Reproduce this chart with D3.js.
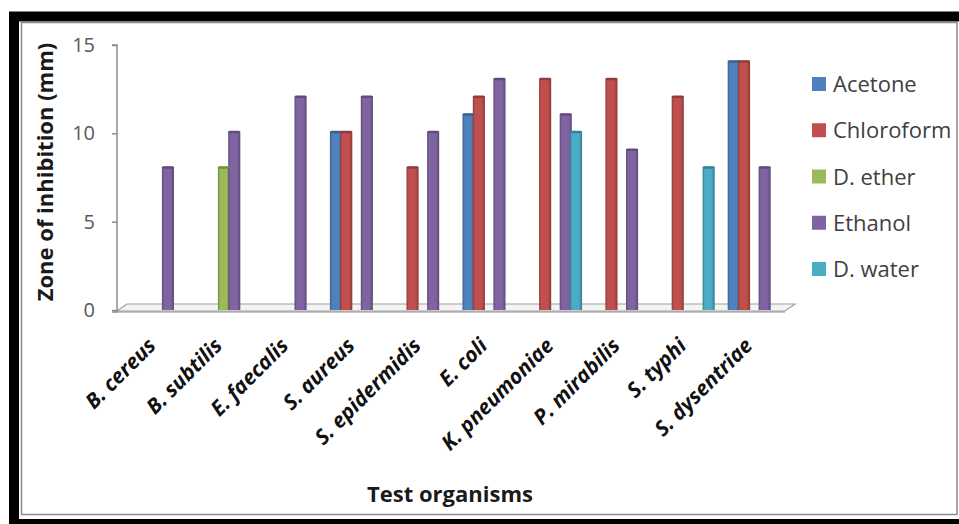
<!DOCTYPE html>
<html>
<head>
<meta charset="utf-8">
<script src="https://cdn.jsdelivr.net/npm/d3@7"></script>
<style>
  body { margin: 0; background: #fff; }
  svg { display: block; }
</style>
</head>
<body>
<div id="chart"></div>
<script>
// chart data
const organisms = ["B. cereus", "B. subtilis", "E. faecalis", "S. aureus", "S. epidermidis",
  "E. coli", "K. pneumoniae", "P. mirabilis", "S. typhi", "S. dysentriae"];
const solvents = ["Acetone", "Chloroform", "D. ether", "Ethanol", "D. water"];
const acetone    = [0, 0, 0, 10, 0, 11, 0, 0, 0, 14];
const chloroform = [0, 0, 0, 10, 8, 12, 13, 13, 12, 14];
const dEther     = [0, 8, 0, 0, 0, 0, 0, 0, 0, 0];
const ethanol    = [8, 10, 12, 12, 10, 13, 11, 9, 0, 8];
const dWater     = [0, 0, 0, 0, 0, 0, 10, 0, 8, 0];
const yTicks = [0, 5, 10, 15];
const xTitle = "Test organisms";
const yTitle = "Zone of inhibition (mm)";

const seriesValues = [acetone, chloroform, dEther, ethanol, dWater];
const colors = ["#4f81bd", "#c0504d", "#9bbb59", "#8064a2", "#4bacc6"];

//define positional parameters
let svgWidth = 959;
let svgHeight = 524;
let plotLeft = 117;
let plotRight = 780;
let plotTop = 45;
let plotBottom = 310;
let depthX = 10;
let depthY = 7;
let clusterShift = 14;
let font = "'Open Sans', 'Noto Sans', sans-serif";

let svg = d3.select("#chart")
  .append("svg")
  .attr("width", svgWidth)
  .attr("height", svgHeight);

//gradients for the shaded bars
let defs = svg.append("defs");
colors.forEach(function(c, i) {
  let g = defs.append("linearGradient")
    .attr("id", "grad" + i)
    .attr("x1", "0%").attr("x2", "100%").attr("y1", "0%").attr("y2", "0%");
  let dark = d3.color(c).darker(0.9);
  g.append("stop").attr("offset", "0%").attr("stop-color", dark);
  g.append("stop").attr("offset", "18%").attr("stop-color", c);
  g.append("stop").attr("offset", "72%").attr("stop-color", c);
  g.append("stop").attr("offset", "100%").attr("stop-color", dark);
});

//outer frame
svg.append("rect")
  .attr("x", 14).attr("y", 16.5)
  .attr("width", 965).attr("height", 507.5)
  .attr("fill", "none").attr("stroke", "#000").attr("stroke-width", 10);
svg.append("rect")
  .attr("x", 21.5).attr("y", 22.5)
  .attr("width", 935.5).attr("height", 492)
  .attr("fill", "none").attr("stroke", "#8a8a8a").attr("stroke-width", 1.5);

//define scales
let x0 = d3.scaleBand()
  .domain(organisms)
  .range([plotLeft, plotRight]);

let x1 = d3.scaleBand()
  .domain(solvents)
  .range([clusterShift, clusterShift + 51.5]);

let yScale = d3.scaleLinear()
  .domain([0, 15])
  .range([plotBottom, plotTop]);

//floor of the 3d plot
let floorRight = plotRight + 5;
svg.append("path")
  .attr("d", `M${plotLeft},${plotBottom + 1} L${floorRight},${plotBottom + 1} L${floorRight + depthX},${plotBottom - depthY + 1} L${plotLeft + depthX},${plotBottom - depthY + 1} Z`)
  .attr("fill", "#f4f4f4")
  .attr("stroke", "#a0a0a0")
  .attr("stroke-width", 1.2);
svg.append("line")
  .attr("x1", plotLeft).attr("x2", floorRight)
  .attr("y1", plotBottom + 2).attr("y2", plotBottom + 2)
  .attr("stroke", "#8c8c8c").attr("stroke-width", 1.2);

//y axis
let yAxis = d3.axisLeft(yScale)
  .tickValues(yTicks)
  .tickSize(5)
  .tickPadding(17);
let yAxisGroup = svg.append("g")
  .attr("transform", `translate(${plotLeft},0)`)
  .call(yAxis);
yAxisGroup.select(".domain")
  .attr("stroke", "#8c8c8c").attr("stroke-width", 1.5)
  .attr("d", `M-5,${plotTop}H0V${plotBottom + 2}H-5`);
yAxisGroup.selectAll(".tick line").attr("stroke", "#8c8c8c").attr("stroke-width", 1.5);
yAxisGroup.selectAll(".tick text")
  .attr("fill", "#595959")
  .style("font-family", font)
  .style("font-size", "20px");

//bars
let bars = [];
organisms.forEach(function(org, i) {
  solvents.forEach(function(s, j) {
    let v = seriesValues[j][i];
    if (v > 0) {
      bars.push({org: org, solvent: s, index: j, value: v});
    }
  });
});

let barWidth = x1.bandwidth() + 1.8;
let barGroup = svg.append("g");
barGroup.selectAll("rect.bar")
  .data(bars)
  .enter()
  .append("rect")
  .attr("class", "bar")
  .attr("x", d => x0(d.org) + x1(d.solvent))
  .attr("y", d => yScale(d.value) - 2)
  .attr("width", barWidth)
  .attr("height", d => yScale(0) - yScale(d.value) + 2)
  .attr("fill", d => `url(#grad${d.index})`);

barGroup.selectAll("rect.cap")
  .data(bars)
  .enter()
  .append("rect")
  .attr("class", "cap")
  .attr("x", d => x0(d.org) + x1(d.solvent) + 0.5)
  .attr("y", d => yScale(d.value) - 2.5)
  .attr("width", barWidth - 1)
  .attr("height", 2.5)
  .attr("rx", 1)
  .attr("fill", d => d3.color(colors[d.index]).darker(0.8));

//category labels
svg.append("g")
  .selectAll("text")
  .data(organisms)
  .enter()
  .append("text")
  .attr("transform", d => `translate(${x0(d) + x0.bandwidth() / 2 + 7},347) rotate(-45)`)
  .attr("text-anchor", "end")
  .attr("fill", "#111")
  .style("font-family", font)
  .style("font-size", "21px")
  .style("font-weight", "bold")
  .style("font-style", "italic")
  .text(d => d);

//axis titles
svg.append("text")
  .attr("x", 450).attr("y", 502)
  .attr("text-anchor", "middle")
  .attr("fill", "#1a1a1a")
  .style("font-family", font)
  .style("font-size", "22px")
  .style("font-weight", "bold")
  .text(xTitle);

svg.append("text")
  .attr("transform", "translate(53,172) rotate(-90)")
  .attr("text-anchor", "middle")
  .attr("fill", "#1a1a1a")
  .style("font-family", font)
  .style("font-size", "22px")
  .style("font-weight", "bold")
  .text(yTitle);

//legend
let legend = svg.append("g")
  .selectAll("g")
  .data(solvents)
  .enter()
  .append("g")
  .attr("transform", (d, i) => `translate(812,${92 + i * 46.25})`);
legend.append("rect")
  .attr("x", 0).attr("y", -15)
  .attr("width", 14).attr("height", 14)
  .attr("fill", (d, i) => colors[i]);
legend.append("text")
  .attr("x", 21).attr("y", 0)
  .attr("fill", "#404040")
  .style("font-family", font)
  .style("font-size", "22px")
  .text(d => d);
</script>
</body>
</html>
